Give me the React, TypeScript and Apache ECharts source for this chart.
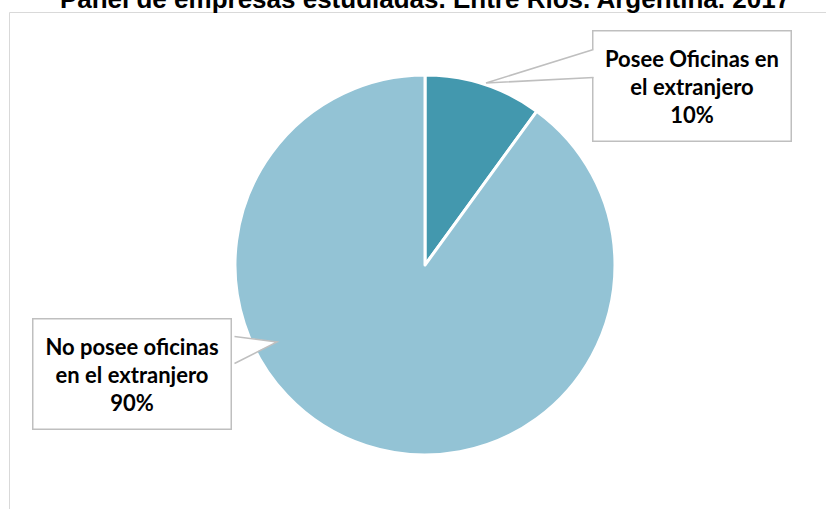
import React, { useEffect, useRef } from "react";
import * as echarts from "echarts";

const titleText = "Panel de empresas estudiadas. Entre Ríos. Argentina. 2017";
const categories = ["Posee Oficinas en el extranjero", "No posee oficinas en el extranjero"];
const labelTexts = ["Posee Oficinas en\nel extranjero", "No posee oficinas\nen el extranjero"];
const values = [10, 90];
const colors = ["#4398AE", "#93C3D5"];

export default function App() {
  const ref = useRef<HTMLDivElement>(null);
  useEffect(() => {
    if (!ref.current) return;
    const chart = echarts.init(ref.current, null, { renderer: "svg" });
    const boxCenters = [
      [692, 86],
      [132, 374],
    ];
    const labelFont = { fontFamily: "Lato", fontWeight: "bold" as const, fontSize: 22, color: "#000" };
    chart.setOption({
      animation: false,
      title: {
        text: titleText,
        left: 420,
        textAlign: "center",
        top: -19,
        padding: 5,
        textStyle: { fontFamily: "Liberation Sans, Arial", fontWeight: "bold", fontSize: 26, color: "#000" },
      },
      graphic: [
        {
          type: "rect",
          z: -10,
          shape: { x: 9.5, y: 12.5, width: 830, height: 520 },
          style: { fill: "#fff", stroke: "#D9D9D9", lineWidth: 1 },
        },
        {
          type: "polygon",
          z: 100,
          shape: { points: [[594.5, 49], [486, 83], [594.5, 77]] },
          style: { fill: "#fff" },
        },
        {
          type: "polyline",
          z: 101,
          shape: { points: [[593.5, 49.5], [486, 83], [593.5, 77.5]] },
          style: { stroke: "#BFBFBF", lineWidth: 1.5, fill: null },
        },
        {
          type: "polygon",
          z: 100,
          shape: { points: [[233.5, 336], [277, 342], [233.5, 363]] },
          style: { fill: "#fff" },
        },
        {
          type: "polyline",
          z: 101,
          shape: { points: [[234.5, 336.5], [277, 342], [234.5, 363.5]] },
          style: { stroke: "#BFBFBF", lineWidth: 1.5, fill: null },
        },
      ],
      series: [
        {
          type: "pie",
          center: [425, 265],
          radius: 190,
          startAngle: 90,
          clockwise: true,
          itemStyle: { borderColor: "#fff", borderWidth: 3 },
          labelLine: { show: false },
          label: {
            show: true,
            position: "outside",
            formatter: (p: any) => labelTexts[p.dataIndex] + "\n" + Math.round(p.percent) + "%",
            ...labelFont,
            lineHeight: 28,
            align: "center",
            width: 197,
            padding: [13, 0, 12, 0],
            backgroundColor: "#fff",
            borderColor: "#BFBFBF",
            borderWidth: 1.5,
          },
          labelLayout: (params: any) => ({
            x: boxCenters[params.dataIndex][0],
            y: boxCenters[params.dataIndex][1],
            align: "center",
            verticalAlign: "middle",
          }),
          data: categories.map((c, i) => ({ name: c, value: values[i], itemStyle: { color: colors[i] } })),
        },
      ],
    });
    return () => chart.dispose();
  }, []);
  return <div ref={ref} style={{ width: 826, height: 509, position: "absolute", left: 0, top: 0 }} />;
}
